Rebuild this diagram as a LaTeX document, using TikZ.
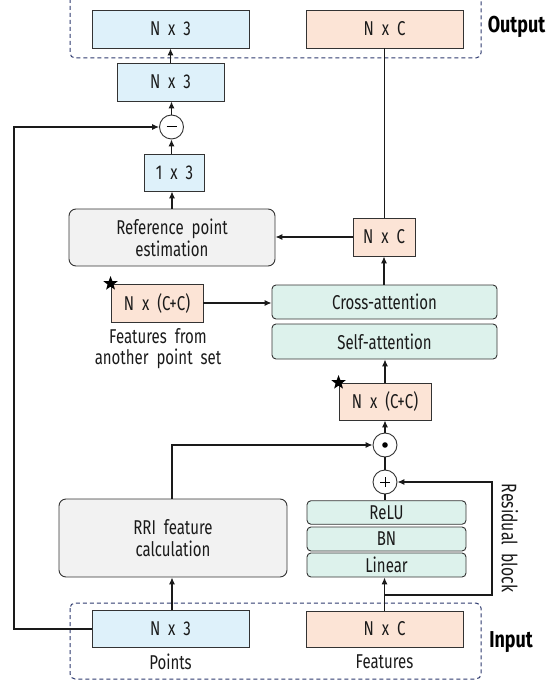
\documentclass[tikz,border=0pt]{standalone}
\usepackage{fontspec}
\setmainfont{Fira Sans}[FakeStretch=0.75,WordSpace=2]
\newfontfamily\boldlab{Fira Sans}[FakeStretch=0.78,UprightFont=* Bold]
\usetikzlibrary{arrows.meta,shapes.geometric}
\definecolor{blueF}{HTML}{DEF1FA}
\definecolor{orangeF}{HTML}{FCE4D6}
\definecolor{greenF}{HTML}{DDF2EC}
\definecolor{grayF}{HTML}{F2F2F2}
\definecolor{edge}{HTML}{333333}
\definecolor{dash}{HTML}{2E3A6E}
\definecolor{txt}{HTML}{1A1A1A}
\tikzset{
  box/.style={draw=edge,line width=0.9pt,inner sep=0pt,text=txt,font=\fontsize{20}{23}\selectfont},
  bluebox/.style={box,fill=blueF},
  orangebox/.style={box,fill=orangeF},
  greenbox/.style={box,fill=greenF,rounded corners=4pt},
  graybox/.style={box,fill=grayF,rounded corners=7pt,align=center},
  opcircle/.style={draw=edge,line width=0.9pt,circle,fill=white,minimum size=24pt,inner sep=0pt},
  arr/.style={line width=1.1pt,draw=txt,-{Latex[length=7pt,width=6pt]}},
  ln/.style={line width=1.1pt,draw=txt},
  dashbox/.style={draw=dash,line width=1pt,dash pattern=on 4pt off 3pt,rounded corners=5pt},
  lab/.style={text=txt,font=\fontsize{20}{21}\selectfont,inner sep=0pt},
  biglab/.style={text=black,font=\boldlab\fontsize{23}{26}\selectfont,inner sep=0pt},
  starmark/.style={star,star points=5,star point ratio=2.4,fill=black,minimum size=15pt,inner sep=0pt}
}
\begin{document}
\begin{tikzpicture}[x=1pt,y=-1pt]
\useasboundingbox (0,0) rectangle (555,684);
% dashed groups
\draw[dashbox] (70,-6) rectangle (481,58);
\draw[dashbox] (70,603) rectangle (481,679);
\node[biglab] (outlab) at (516.5,27) {Output};
\node[biglab] (inlab) at (511,642) {Input};
% top
\node[bluebox,minimum width=157pt,minimum height=38pt] (outN3) at (170.5,29) {N x 3};
\node[orangebox,minimum width=157pt,minimum height=38pt] (outNC) at (384.5,29) {N x C};
\node[bluebox,minimum width=107pt,minimum height=38pt] (midN3) at (170.5,82) {N x 3};
\node[opcircle] (minus) at (171.5,127) {};
\draw[line width=1pt] ([xshift=-5pt]minus.center) -- ([xshift=5pt]minus.center);
\node[bluebox,minimum width=60pt,minimum height=37pt] (one3) at (174.5,172.5) {1 x 3};
\node[graybox,minimum width=206pt,minimum height=57pt] (ref) at (172,237.5) {Reference point\\[-1pt]estimation};
\node[orangebox,minimum width=62pt,minimum height=38pt] (midNC) at (384,237) {N x C};
\node[orangebox,minimum width=92pt,minimum height=38pt] (leftCC) at (157,303) {N x (C+C)};
\node[starmark] (star1) at (leftCC.north west) {};
\node[lab,align=center,anchor=north] (fromtxt) at (158,328) {Features from\\another point set};
\node[greenbox,minimum width=225pt,minimum height=34pt] (cross) at (384.5,302) {Cross-attention};
\node[greenbox,minimum width=225pt,minimum height=35pt] (self) at (384.5,341.5) {Self-attention};
\node[orangebox,minimum width=92pt,minimum height=37pt] (lowCC) at (385,401.5) {N x (C+C)};
\node[starmark] (star2) at (lowCC.north west) {};
\node[opcircle] (dot) at (385,445) {};
\fill[black] (dot.center) circle (2.8pt);
\node[opcircle] (plus) at (385,482) {};
\draw[line width=1pt] ([xshift=-5pt]plus.center) -- ([xshift=5pt]plus.center);
\draw[line width=1pt] ([yshift=-5pt]plus.center) -- ([yshift=5pt]plus.center);
\node[greenbox,minimum width=159pt,minimum height=23.5pt] (relu) at (386.5,512.5) {ReLU};
\node[greenbox,minimum width=159pt,minimum height=24pt] (bn) at (386.5,539) {BN};
\node[greenbox,minimum width=159pt,minimum height=24pt] (linear) at (386.5,565) {Linear};
\node[graybox,minimum width=228pt,minimum height=78pt] (rri) at (173,538) {RRI feature\\[-1pt]calculation};
\node[bluebox,minimum width=157pt,minimum height=37pt] (pts) at (170.5,629) {N x 3};
\node[orangebox,minimum width=157pt,minimum height=36pt] (feats) at (384.5,629) {N x C};
\node[lab] (ptslab) at (170.5,662) {Points};
\node[lab] (featslab) at (384.5,662) {Features};
\node[lab,rotate=-90,font=\fontsize{21}{22}\selectfont] (reslab) at (510,538) {Residual block};
% connectors
\coordinate (lx) at (14,0);
\coordinate (rb) at (492,595);
\draw[arr] (midN3.north) -- (outN3.south);
\draw[arr] (minus.north) -- (minus.north |- midN3.south);
\draw[arr] (minus.south |- one3.north) -- (minus.south);
\draw[arr] (ref.north) -- (ref.north |- one3.south);
\draw[arr] (pts.west) -- (pts.west -| lx) |- (minus.west);
\draw[ln] (outNC.south) -- (outNC.south |- midNC.north);
\draw[arr] (midNC.west) -- (midNC.west -| ref.east);
\draw[arr] (cross.north -| midNC.south) -- (midNC.south);
\draw[arr] (leftCC.east) -- (leftCC.east -| cross.west);
\draw[arr] (lowCC.north) -- (lowCC.north |- self.south);
\draw[arr] (dot.north) -- (dot.north |- lowCC.south);
\draw[ln] (plus.north) -- (dot.south);
\draw[ln] (plus.south) -- (plus.south |- relu.north);
\draw[arr] (feats.north) -- (feats.north |- linear.south);
\draw[arr] (feats.north |- rb) -- (rb) |- (plus.east);
\draw[arr] (rri.north -| 172,0) |- (dot.west);
\draw[arr] (pts.north -| 172,0) -- (172,0 |- rri.south);
\end{tikzpicture}
\end{document}
